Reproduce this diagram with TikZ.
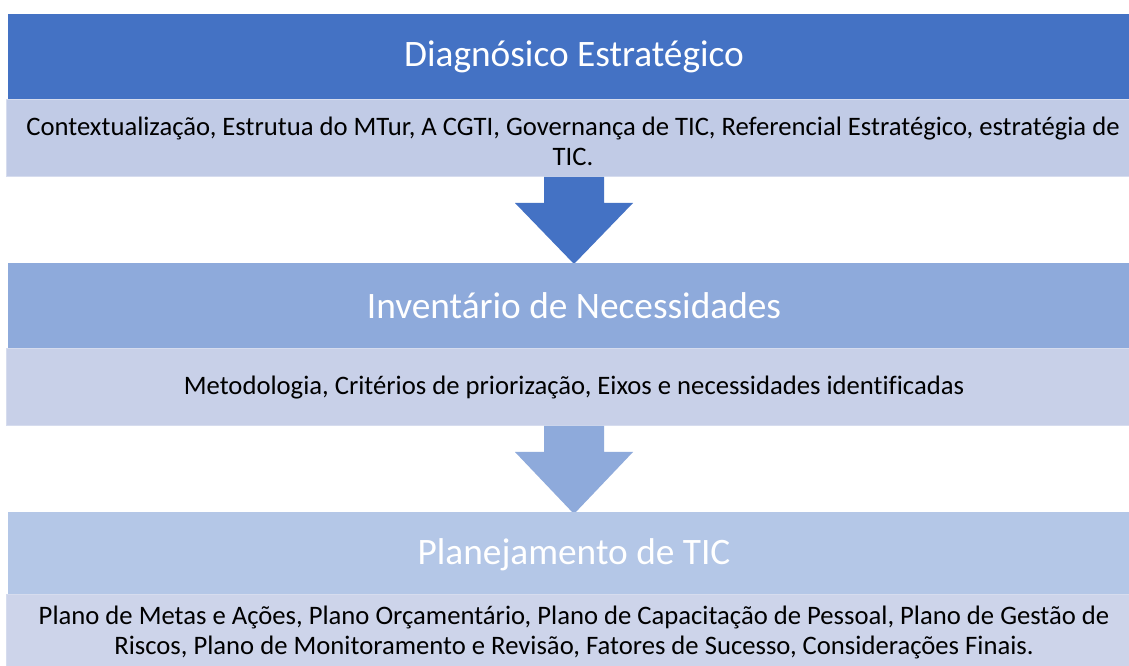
\documentclass[tikz,border=0pt]{standalone}
\usepackage{fontspec}
\setmainfont[Ligatures=NoCommon]{Carlito}
\definecolor{hA}{HTML}{4472C4}
\definecolor{hB}{HTML}{8EAADB}
\definecolor{hC}{HTML}{B4C7E7}
\definecolor{sA}{HTML}{C1CBE6}
\definecolor{sB}{HTML}{C8D0E8}
\definecolor{sC}{HTML}{CDD4EA}
\definecolor{sEdge}{HTML}{D6DCEE}
\begin{document}
\begin{tikzpicture}[x=0.75pt,y=-0.75pt,
  headtext/.style={text=white,font=\fontsize{28}{32}\selectfont,inner sep=0pt,anchor=center},
  subtext/.style={text=black,font=\fontsize{20}{22.5}\selectfont,align=center,inner sep=0pt,anchor=center},
  subbox/.style={draw=sEdge,line width=0.75pt},
  bigarrow/.style={draw=none}]
\useasboundingbox (0,0) rectangle (1129,666);
\fill[white] (0,0) rectangle (1129,666);
% level 1
\fill[hA] (8,14) rectangle (1140,100);
\path[subbox,fill=sA] (6,100) rectangle (1140,177);
\node[headtext] (h1) at (574,57) {Diagnósico Estratégico};
\node[subtext] (s1) at (573,141) {Contextualização, Estrutua do MTur, A CGTI, Governança de TIC, Referencial Estratégico, estratégia de\\TIC.};
% arrow 1
\fill[hA,bigarrow] (544,177) -- (604,177) -- (604,203) -- (633,203) -- (574,264) -- (515,203) -- (544,203) -- cycle;
% level 2
\fill[hB] (8,263) rectangle (1140,349);
\path[subbox,fill=sB] (6,349) rectangle (1140,426);
\node[headtext] (h2) at (574,306) {Inventário de Necessidades};
\node[subtext] (s2) at (574,388) {Metodologia, Critérios de priorização, Eixos e necessidades identificadas};
% arrow 2
\fill[hB,bigarrow] (544,426) -- (604,426) -- (604,452) -- (633,452) -- (574,514) -- (515,452) -- (544,452) -- cycle;
% level 3
\fill[hC] (8,512) rectangle (1140,595);
\path[subbox,fill=sC] (6,595) rectangle (1140,680);
\node[headtext] (h3) at (574,555) {Planejamento de TIC};
\node[subtext] (s3) at (574,632) {Plano de Metas e Ações, Plano Orçamentário, Plano de Capacitação de Pessoal, Plano de Gestão de\\Riscos, Plano de Monitoramento e Revisão, Fatores de Sucesso, Considerações Finais.};
\end{tikzpicture}
\end{document}
